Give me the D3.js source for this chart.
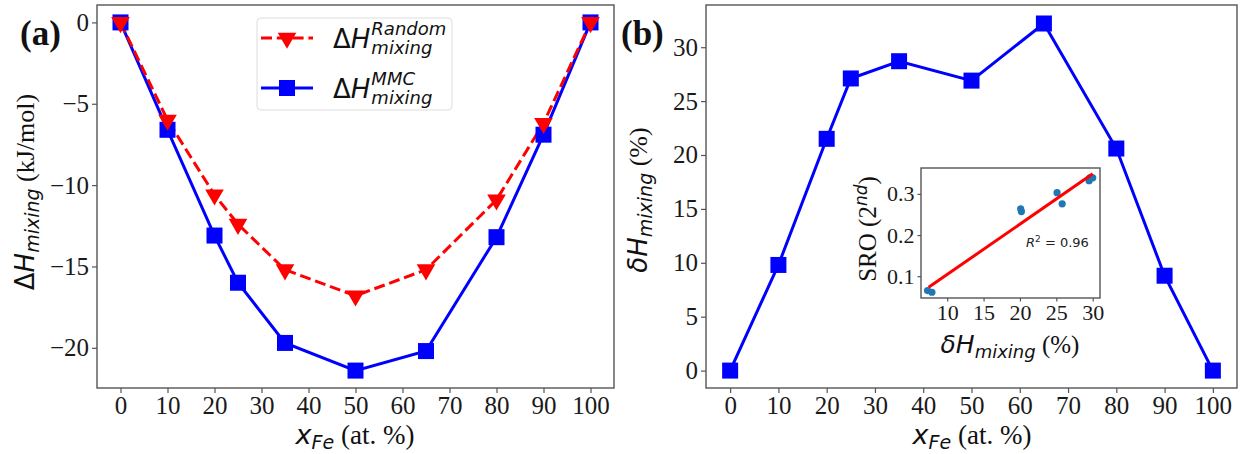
<!DOCTYPE html>
<html><head><meta charset="utf-8">
<script src="https://cdn.jsdelivr.net/npm/d3@7"></script>
<style>body{margin:0;background:#fff}svg{display:block}</style>
</head><body><svg id="c" width="1242" height="454"></svg>
<script>
// ---- data ----
const xFe = [0, 10, 20, 25, 35, 50, 65, 80, 90, 100];
const dHRandom = [0, -6.0, -10.6, -12.4, -15.2, -16.8, -15.2, -10.9, -6.2, 0];
const dHMMC = [0, -6.6, -13.1, -16.0, -19.7, -21.4, -20.2, -13.2, -6.9, 0];
const deltaH = [0, 9.8, 21.5, 27.1, 28.7, 26.9, 32.2, 20.6, 8.8, 0];
const xTicks = [0, 10, 20, 30, 40, 50, 60, 70, 80, 90, 100];
const yTicksA = [0, -5, -10, -15, -20];
const yTicksB = [0, 5, 10, 15, 20, 25, 30];
const insetX = [7.3, 7.9, 20.1, 20.2, 25.1, 25.8, 29.5, 29.6, 30.0];
const insetY = [0.065, 0.061, 0.264, 0.257, 0.303, 0.276, 0.332, 0.339, 0.339];
const fitX = [7.45, 30.0];
const fitY = [0.073, 0.349];
const insetXTicks = [10, 15, 20, 25, 30];
const insetYTicks = [0.1, 0.2, 0.3];

const svg = d3.select('#c');
const SERIF = "'Liberation Serif','Times New Roman',serif";
const SANS = "'DejaVu Sans',sans-serif";
const SPINE = '#555';

function frame(g, x, y) {
  const [x0, x1] = x.range(), [y1, y0] = y.range();
  g.append('rect').attr('x', x0).attr('y', y0).attr('width', x1 - x0).attr('height', y1 - y0)
    .attr('fill', 'none').attr('stroke', SPINE).attr('stroke-width', 1.4);
}
function axes(g, x, y, xt, yt, fs, fmtY, tl, pad) {
  const xa = d3.axisBottom(x).tickValues(xt).tickSize(tl).tickPadding(pad).tickFormat(d3.format('d'));
  const ya = d3.axisLeft(y).tickValues(yt).tickSize(tl).tickPadding(pad).tickFormat(fmtY);
  const gx = g.append('g').attr('transform', `translate(0,${y.range()[0]})`).call(xa);
  const gy = g.append('g').attr('transform', `translate(${x.range()[0]},0)`).call(ya);
  [gx, gy].forEach(a => {
    a.select('.domain').remove();
    a.selectAll('line').attr('stroke', SPINE).attr('stroke-width', 1.2);
    a.selectAll('text').attr('font-family', SERIF).attr('font-size', fs).attr('fill', '#1a1a1a');
  });
}
const minusFmt = d => (d < 0 ? '\u2212' : '') + Math.abs(d);

// ---- Panel (a) ----
const xa = d3.scaleLinear().domain([-5, 105]).range([97, 614]);
const ya = d3.scaleLinear().domain([-22.47, 1.07]).range([388, 5]);
const ga = svg.append('g');
axes(ga, xa, ya, xTicks, yTicksA, 25, minusFmt, 5, 3);

const lineA = d3.line().x((d, i) => xa(xFe[i])).y(d => ya(d));
ga.append('path').datum(dHMMC).attr('d', lineA).attr('fill', 'none').attr('stroke', '#0000ff').attr('stroke-width', 3);
ga.append('path').datum(dHRandom).attr('d', lineA).attr('fill', 'none').attr('stroke', '#ff0000').attr('stroke-width', 3).attr('stroke-dasharray', '11,4.8');
const sq = 16;
ga.selectAll('rect.mmc').data(dHMMC).join('rect').attr('class', 'mmc')
  .attr('x', (d, i) => xa(xFe[i]) - sq / 2).attr('y', d => ya(d) - sq / 2)
  .attr('width', sq).attr('height', sq).attr('fill', '#0000ff');
const tri = d3.symbol().type(d3.symbolTriangle).size(150);
ga.selectAll('path.rnd').data(dHRandom).join('path').attr('class', 'rnd')
  .attr('d', tri).attr('transform', (d, i) => `translate(${xa(xFe[i])},${ya(d)}) rotate(180)`)
  .attr('fill', '#ff0000');
frame(ga, xa, ya);

// legend
const lg = ga.append('g');
lg.append('rect').attr('x', 257).attr('y', 18).attr('width', 195).attr('height', 92).attr('rx', 4)
  .attr('fill', '#fff').attr('fill-opacity', 0.85).attr('stroke', '#ddd').attr('stroke-width', 1);
function legendRow(yLine, sup, color, dashed, marker) {
  lg.append('line').attr('x1', 261).attr('x2', 313).attr('y1', yLine).attr('y2', yLine)
    .attr('stroke', color).attr('stroke-width', 3).attr('stroke-dasharray', dashed ? '11,4.8' : null);
  if (marker === 'tri') lg.append('path').attr('d', tri).attr('transform', `translate(287,${yLine}) rotate(180)`).attr('fill', color);
  else lg.append('rect').attr('x', 287 - sq / 2).attr('y', yLine - sq / 2).attr('width', sq).attr('height', sq).attr('fill', color);
  const t = lg.append('text').attr('x', 333).attr('y', yLine + 10).attr('font-family', SANS).attr('font-size', 26).attr('fill', '#111');
  t.append('tspan').text('\u0394');
  t.append('tspan').attr('font-style', 'italic').text('H');
  const w = t.node().getComputedTextLength();
  lg.append('text').attr('x', 333 + w + 1).attr('y', yLine - 3).attr('font-family', SANS).attr('font-style', 'italic').attr('font-size', 18).attr('fill', '#111').text(sup);
  lg.append('text').attr('x', 333 + w + 1).attr('y', yLine + 16).attr('font-family', SANS).attr('font-style', 'italic').attr('font-size', 18).attr('fill', '#111').text('mixing');
}
legendRow(38, 'Random', '#ff0000', true, 'tri');
legendRow(88, 'MMC', '#0000ff', false, 'sq');

// labels
function yLabel(g, cx, cy, greek, greekItalic, unit) {
  const t = g.append('text').attr('transform', `translate(${cx},${cy}) rotate(-90)`).attr('text-anchor', 'middle')
    .attr('font-size', 26).attr('fill', '#111');
  t.append('tspan').attr('font-family', SANS).attr('font-style', greekItalic ? 'italic' : null).text(greek);
  t.append('tspan').attr('font-family', SANS).attr('font-style', 'italic').text('H');
  t.append('tspan').attr('font-family', SANS).attr('font-style', 'italic').attr('font-size', 19).attr('dy', 5).text('mixing');
  t.append('tspan').attr('font-family', SERIF).attr('dy', -5).text(' ' + unit);
}
function xLabel(g, cx, cy) {
  const t = g.append('text').attr('x', cx).attr('y', cy).attr('text-anchor', 'middle').attr('font-size', 27).attr('fill', '#111');
  t.append('tspan').attr('font-family', SANS).attr('font-style', 'italic').text('x');
  t.append('tspan').attr('font-family', SANS).attr('font-style', 'italic').attr('font-size', 19).attr('dy', 5).text('Fe');
  t.append('tspan').attr('font-family', SERIF).attr('dy', -5).text(' (at. %)');
}
yLabel(ga, 34, 192, '\u0394', false, '(kJ/mol)');
xLabel(ga, 355, 444);
svg.append('text').attr('x', 20).attr('y', 45).attr('font-family', SERIF).attr('font-weight', 'bold').attr('font-size', 35).attr('fill', '#111').text('(a)');

// ---- Panel (b) ----
const xb = d3.scaleLinear().domain([-5, 105]).range([706, 1237]);
const yb = d3.scaleLinear().domain([-1.615, 33.915]).range([388, 5]);
const gb = svg.append('g');
axes(gb, xb, yb, xTicks, yTicksB, 25, d3.format('d'), 5, 3);
const lineB = d3.line().x((d, i) => xb(xFe[i])).y(d => yb(d));
gb.append('path').datum(deltaH).attr('d', lineB).attr('fill', 'none').attr('stroke', '#0000ff').attr('stroke-width', 3);
gb.selectAll('rect.db').data(deltaH).join('rect').attr('class', 'db')
  .attr('x', (d, i) => xb(xFe[i]) - sq / 2).attr('y', d => yb(d) - sq / 2)
  .attr('width', sq).attr('height', sq).attr('fill', '#0000ff');
frame(gb, xb, yb);
yLabel(gb, 647, 200, '\u03b4', true, '(%)');
xLabel(gb, 972, 444);
svg.append('text').attr('x', 621).attr('y', 45).attr('font-family', SERIF).attr('font-weight', 'bold').attr('font-size', 35).attr('fill', '#111').text('(b)');

// ---- Inset ----
const xi = d3.scaleLinear().domain([6.4, 31.0]).range([921, 1100]);
const yi = d3.scaleLinear().domain([0.047, 0.363]).range([298, 168]);
const gi = svg.append('g');
gi.append('rect').attr('x', 921).attr('y', 168).attr('width', 179).attr('height', 130).attr('fill', '#fff');
axes(gi, xi, yi, insetXTicks, insetYTicks, 22, d3.format('.1f'), 3.5, 3);
gi.selectAll('circle').data(insetX).join('circle').attr('cx', d => xi(d)).attr('cy', (d, i) => yi(insetY[i]))
  .attr('r', 3.6).attr('fill', '#1f77b4');
gi.append('path').datum(fitX).attr('d', d3.line().x(d => xi(d)).y((d, i) => yi(fitY[i])))
  .attr('stroke', '#ff0000').attr('stroke-width', 3).attr('fill', 'none');
frame(gi, xi, yi);
const r2 = gi.append('text').attr('x', 1026).attr('y', 247).attr('font-family', SANS).attr('font-size', 13).attr('fill', '#222');
r2.append('tspan').attr('font-style', 'italic').text('R');
r2.append('tspan').attr('font-size', 9).attr('dy', -5).text('2');
r2.append('tspan').attr('dy', 5).text(' = 0.96');
// inset labels
const il = gi.append('text').attr('transform', 'translate(876,229) rotate(-90)').attr('text-anchor', 'middle').attr('font-size', 25).attr('fill', '#111');
il.append('tspan').attr('font-family', SERIF).text('SRO (2');
il.append('tspan').attr('font-family', SANS).attr('font-style', 'italic').attr('font-size', 17).attr('dy', -9).text('nd');
il.append('tspan').attr('font-family', SERIF).attr('dy', 9).text(')');
const ix = gi.append('text').attr('x', 1010).attr('y', 353).attr('text-anchor', 'middle').attr('font-size', 25).attr('fill', '#111');
ix.append('tspan').attr('font-family', SANS).attr('font-style', 'italic').text('\u03b4');
ix.append('tspan').attr('font-family', SANS).attr('font-style', 'italic').text('H');
ix.append('tspan').attr('font-family', SANS).attr('font-style', 'italic').attr('font-size', 18).attr('dy', 5).text('mixing');
ix.append('tspan').attr('font-family', SERIF).attr('dy', -5).text(' (%)');
</script></body></html>
